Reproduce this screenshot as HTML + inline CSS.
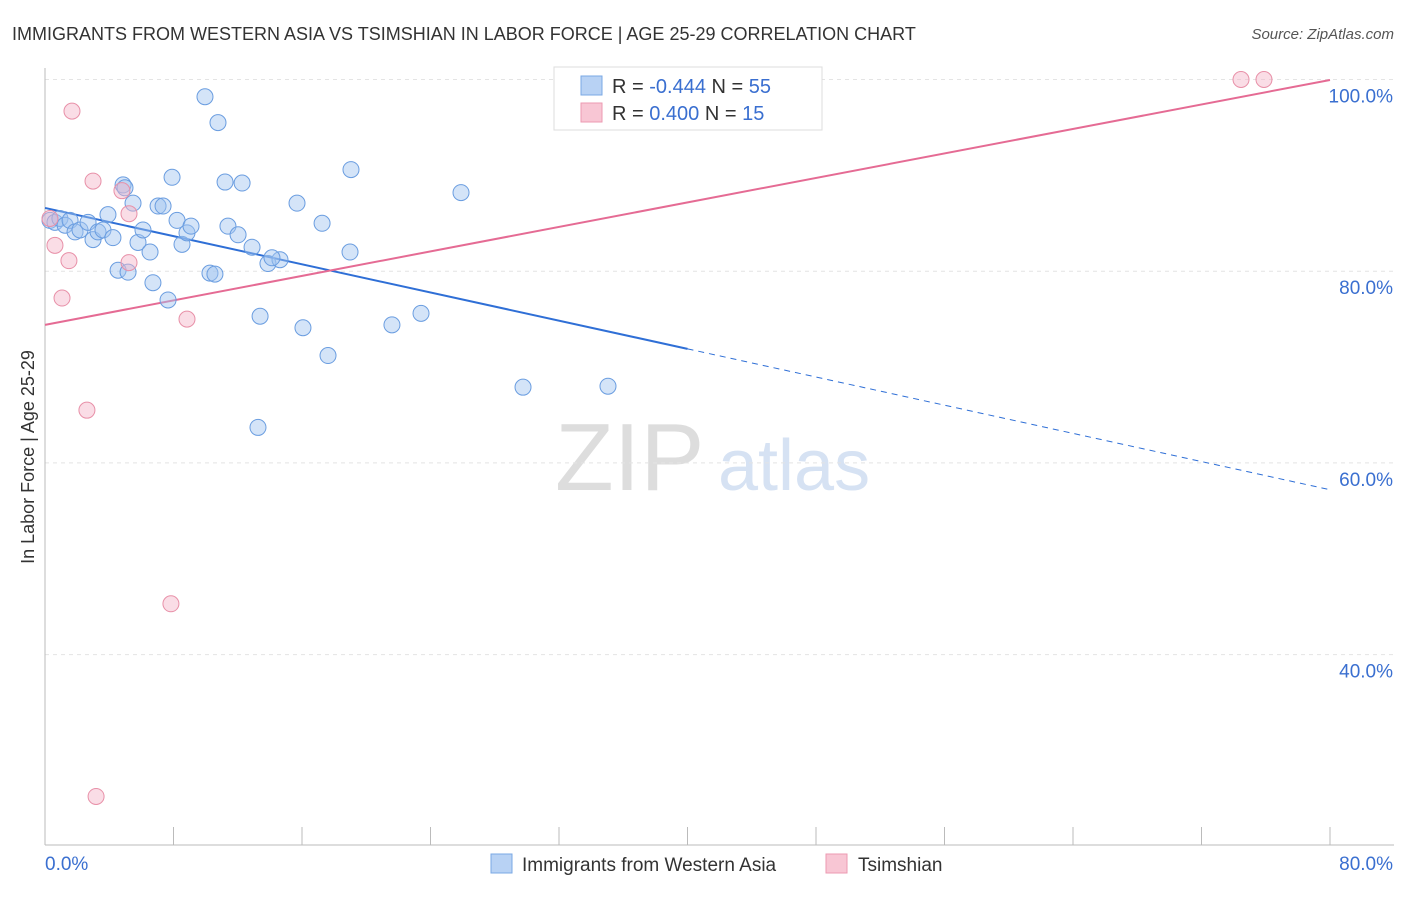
<!DOCTYPE html>
<html><head><meta charset="utf-8">
<style>
body{margin:0;background:#fff;font-family:"Liberation Sans",sans-serif;}
svg text{font-family:"Liberation Sans",sans-serif;}
</style></head>
<body>
<svg id="chart" width="1406" height="892" xmlns="http://www.w3.org/2000/svg">
<text x="12" y="40" font-size="18" fill="#333">IMMIGRANTS FROM WESTERN ASIA VS TSIMSHIAN IN LABOR FORCE | AGE 25-29 CORRELATION CHART</text>
<text x="1394" y="39" font-size="15" fill="#555" font-style="italic" text-anchor="end">Source: ZipAtlas.com</text>
<g>
<text x="555" y="490" font-size="96" fill="#ddd" font-family="Liberation Serif">ZIP</text>
<text x="718" y="490" font-size="72" fill="#d6e2f3">atlas</text>
</g>
<g id="grid"></g>
<g id="axes"></g>
<g id="trends"></g>
<g id="points"></g>
<text transform="translate(34,457) rotate(-90)" font-size="18" fill="#333" text-anchor="middle">In Labor Force | Age 25-29</text>
<g>
<rect x="554" y="67" width="268" height="63" fill="#fff" stroke="#ddd"/>
<rect x="581" y="76" width="21" height="19" fill="#b8d2f4" stroke="#7aa8e4"/>
<rect x="581" y="103" width="21" height="19" fill="#f8c6d4" stroke="#ec9ab2"/>
<text x="612" y="93" font-size="20" fill="#333">R = <tspan fill="#3a6fd0">-0.444</tspan>   N = <tspan fill="#3a6fd0">55</tspan></text>
<text x="612" y="120" font-size="20" fill="#333">R =  <tspan fill="#3a6fd0">0.400</tspan>   N =  <tspan fill="#3a6fd0">15</tspan></text>
</g>
<g>
<rect x="491" y="854" width="21" height="19" fill="#b8d2f4" stroke="#7aa8e4"/>
<text x="522" y="871" font-size="19" fill="#333">Immigrants from Western Asia</text>
<rect x="826" y="854" width="21" height="19" fill="#f8c6d4" stroke="#ec9ab2"/>
<text x="858" y="871" font-size="19" fill="#333">Tsimshian</text>
</g>
</svg>
<script>
const yTicks=[40,60,80,100];
const yTickLabels=["40.0%","60.0%","80.0%","100.0%"];
const blueX=[0.31,0.62,0.93,1.25,1.56,1.87,2.18,2.68,2.99,3.30,3.61,3.92,4.23,4.55,4.86,5.17,5.48,5.79,6.10,6.54,6.72,7.04,7.35,7.66,7.91,8.22,8.53,8.84,9.09,9.96,10.27,10.58,10.77,11.21,11.39,12.02,12.27,12.89,13.39,13.26,13.88,14.63,15.69,16.06,17.25,17.62,18.99,19.05,21.60,23.41,25.90,29.76,35.05,14.13,4.98];
const blueY=[85.3,85.1,85.5,84.8,85.3,84.1,84.3,85.1,83.3,84.1,84.3,85.9,83.5,80.1,89.0,79.9,87.1,83.0,84.3,82.0,78.8,86.8,86.8,77.0,89.8,85.3,82.8,84.0,84.7,98.2,79.8,79.7,95.5,89.3,84.7,83.8,89.2,82.5,75.3,63.7,80.8,81.2,87.1,74.1,85.0,71.2,82.0,90.6,74.4,75.6,88.2,67.9,68.0,81.4,88.7];
const pinkX=[0.62,1.06,1.49,1.68,2.61,2.99,3.18,4.79,5.23,5.23,7.84,8.84,74.46,75.89,0.31];
const pinkY=[82.7,77.2,81.1,96.7,65.5,89.4,25.2,88.4,86.0,80.9,45.3,75.0,100.0,100.0,85.5];
const blueTrend=[86.6,57.2]; // y at x=0 and x=80
const pinkTrend=[74.4,99.95];
const NS="http://www.w3.org/2000/svg";
function sx(v){return 45+v/80*1285;}
function sy(v){return 1038-v/100*958.5;}
function mk(tag,attrs,parent){const e=document.createElementNS(NS,tag);for(const k in attrs)e.setAttribute(k,attrs[k]);document.getElementById(parent).appendChild(e);return e;}
yTicks.forEach((t,i)=>{
 const l=mk('line',{x1:45,x2:1394,y1:sy(t),y2:sy(t),stroke:'#e4e4e4','stroke-dasharray':'4,4'},'grid');
 
 
 const tx=mk('text',{x:1393,y:sy(t)+23,'font-size':19,fill:'#3a6fd0','text-anchor':'end'},'grid');
 tx.textContent=yTickLabels[i];
 
 
});
let a=mk('line',{x1:45,x2:45,y1:68,y2:845,stroke:'#bbb'},'axes');


a=mk('line',{x1:45,x2:1394,y1:845,y2:845,stroke:'#bbb'},'axes');


for(let i=0;i<=10;i++){
 const t=mk('line',{x1:sx(i*8),x2:sx(i*8),y1:827,y2:845,stroke:'#bbb'},'axes');
 
 
}
let xl=mk('text',{x:45,y:870,'font-size':19,fill:'#3a6fd0'},'axes');xl.textContent='0.0%';


xl=mk('text',{x:1393,y:870,'font-size':19,fill:'#3a6fd0','text-anchor':'end'},'axes');xl.textContent='80.0%';


function tY(tr,x){return tr[0]+(tr[1]-tr[0])*x/80;}
let tl=mk('line',{x1:sx(0),y1:sy(tY(blueTrend,0)),x2:sx(40),y2:sy(tY(blueTrend,40)),stroke:'#2f6fd6','stroke-width':2},'trends');


tl=mk('line',{x1:sx(40),y1:sy(tY(blueTrend,40)),x2:sx(80),y2:sy(tY(blueTrend,80)),stroke:'#2f6fd6','stroke-width':1,'stroke-dasharray':'6,5'},'trends');


tl=mk('line',{x1:sx(0),y1:sy(tY(pinkTrend,0)),x2:sx(80),y2:sy(tY(pinkTrend,80)),stroke:'#e56b94','stroke-width':2},'trends');


blueX.forEach((x,i)=>{
 const c=mk('circle',{cx:sx(x),cy:sy(blueY[i]),r:8,fill:'rgba(160,195,240,0.45)',stroke:'#6a9de0','stroke-width':1},'points');
 
 
});
pinkX.forEach((x,i)=>{
 const c=mk('circle',{cx:sx(x),cy:sy(pinkY[i]),r:8,fill:'rgba(245,180,200,0.45)',stroke:'#e890a8','stroke-width':1},'points');
 
 
});
</script>
</body></html>
